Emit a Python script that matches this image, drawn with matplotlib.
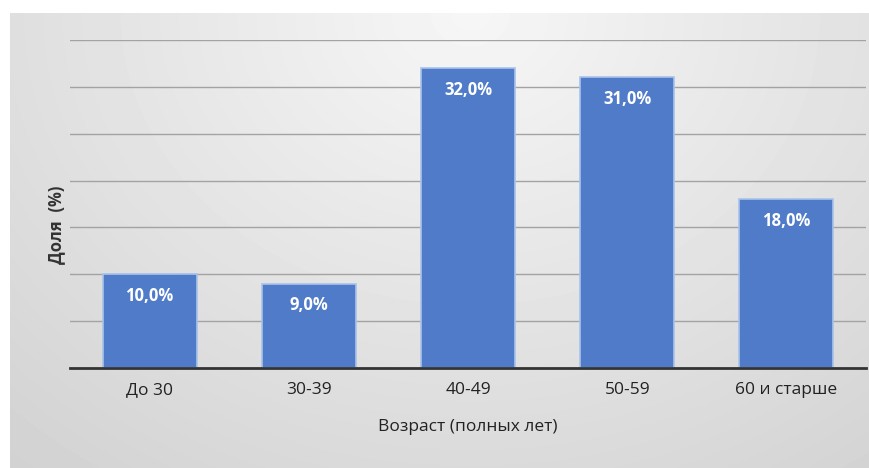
import numpy as np
import matplotlib
matplotlib.use("Agg")
import matplotlib.pyplot as plt

plt.rcParams['font.family'] = ['Open Sans', 'DejaVu Sans']

# age groups and their share, %
groups = ["До 30", "30-39", "40-49", "50-59", "60 и старше"]
shares = [10.0, 9.0, 32.0, 31.0, 18.0]

W, H = 869, 468
fig = plt.figure(figsize=(W / 100, H / 100), dpi=100)
fig.patch.set_facecolor("white")

# soft grey gradient panel behind the chart
bg = fig.add_axes([10 / W, 0, 1 - 10 / W, 1 - 13 / H], zorder=0)
yy, xx = np.mgrid[0:455, 0:859]
d = np.sqrt(((xx - 460) / 1.2) ** 2 + (yy - 0) ** 2)
shade = np.clip(0.965 - 0.15 * d / 620, 0.8, 1.0)
bg.imshow(shade, cmap="gray", vmin=0, vmax=1, aspect="auto", interpolation="bilinear")
bg.axis("off")

ax = fig.add_axes([70 / W, 1 - 368 / H, 796 / W, 328 / H], zorder=1)
ax.set_facecolor("none")

x = np.arange(len(groups))
bars = ax.bar(x, shares, width=0.59, color="#4f7bc9", edgecolor="#a9c3ea",
              linewidth=1.2, zorder=3)

for b, v in zip(bars, shares):
    ax.text(b.get_x() + b.get_width() / 2, v - 1.35, f"{v:.1f}%".replace(".", ","),
            ha="center", va="top", color="white", fontsize=12,
            fontweight="bold", zorder=4)

ax.set_xlim(-0.5, len(groups) - 0.5)
ax.set_ylim(0, 35)
ax.set_yticks(np.arange(5, 36, 5))
ax.yaxis.grid(True, color="#a3a3a3", linewidth=1.0, zorder=1)
ax.set_yticklabels([])
ax.tick_params(axis="y", length=0)
ax.tick_params(axis="x", length=0, pad=10, labelsize=12.5, labelcolor="#222222")
ax.set_xticks(x)
ax.set_xticklabels(groups)

for s in ["top", "right", "left"]:
    ax.spines[s].set_visible(False)
ax.spines["bottom"].set_color("#333333")
ax.spines["bottom"].set_linewidth(2)
ax.spines["bottom"].set_zorder(5)

ax.set_xlabel("Возраст (полных лет)", fontsize=12.5, color="#222222", labelpad=15)
ax.set_ylabel("Доля  (%)", fontsize=12, fontweight="bold", color="#333333")
ax.yaxis.set_label_coords(-0.006, 0.436)

fig.savefig("out.png", dpi=100)
